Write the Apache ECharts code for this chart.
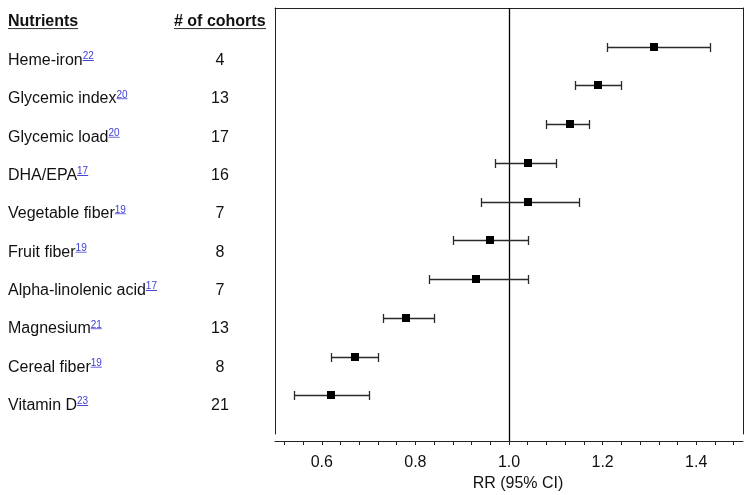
<!DOCTYPE html>
<html><head><meta charset="utf-8">
<script src="https://cdn.jsdelivr.net/npm/echarts@6/dist/echarts.min.js"></script>
<style>html,body{margin:0;padding:0;background:#fff}#c{width:751px;height:495px}</style>
</head><body><div id="c"></div>
<script>
const nutrients = ['Heme-iron','Glycemic index','Glycemic load','DHA/EPA','Vegetable fiber','Fruit fiber','Alpha-linolenic acid','Magnesium','Cereal fiber','Vitamin D'];
const refs = ['22','20','20','17','19','19','17','21','19','23'];
const cohorts = [4,13,17,16,7,8,7,13,8,21];
const rr = [1.31,1.19,1.13,1.04,1.04,0.96,0.93,0.78,0.67,0.62];
const ciLow = [1.21,1.14,1.08,0.97,0.94,0.88,0.83,0.73,0.62,0.54];
const ciHigh = [1.43,1.24,1.17,1.10,1.15,1.04,1.04,0.84,0.72,0.70];
const xTickValues = [0.52,0.56,0.60,0.64,0.68,0.72,0.76,0.80,0.84,0.88,0.92,0.96,1.00,1.04,1.08,1.12,1.16,1.20,1.24,1.28,1.32,1.36,1.40,1.44,1.48];
const xLabelValues = [0.6,0.8,1.0,1.2,1.4];
const nullValue = 1.0;

const n = nutrients.length;
const rowValues = nutrients.map((_, i) => n - i);
const FONT = '"Liberation Sans", Arial, sans-serif';
const TXT = '#111';
const BLUE = '#4040d4';

function lineImg(h, row, color) {
  const c = document.createElement('canvas');
  c.width = 4; c.height = h;
  const ctx = c.getContext('2d');
  ctx.fillStyle = color;
  ctx.fillRect(0, row, 4, 1);
  return c;
}
const headLine = lineImg(18, 16, TXT);
const supLine = lineImg(12, 10, BLUE);

const chart = echarts.init(document.getElementById('c'), null, {renderer: 'canvas'});
const AXIS_OFFSET = 7;
const headRich = {u: {fontFamily: FONT, fontSize: 16, fontWeight: 'bold', color: TXT, lineHeight: 18, backgroundColor: {image: headLine}}};

chart.setOption({
  animation: false,
  backgroundColor: '#fff',
  title: [
    {text: '{u|Nutrients}', left: 8, top: 13, padding: 0, textStyle: {rich: headRich}},
    {text: '{u|# of cohorts}', left: 174, top: 13, padding: 0, textStyle: {rich: headRich}}
  ],
  grid: {left: 275, right: 8, top: 8, bottom: 61, containLabel: false, outerBoundsMode: 'none'},
  xAxis: [
    {
      type: 'value', position: 'bottom', min: 0.5, max: 1.5, offset: AXIS_OFFSET,
      axisLine: {show: true, onZero: false, lineStyle: {color: '#222', width: 1}},
      axisTick: {show: true, length: 4, customValues: xTickValues, lineStyle: {color: '#222'}},
      axisLabel: {show: true, customValues: xLabelValues, margin: 14, fontFamily: FONT, fontSize: 16, lineHeight: 16, color: TXT,
        formatter: v => v.toFixed(1)},
      splitLine: {show: false},
      name: 'RR (95% CI)', nameLocation: 'middle', nameGap: 32,
      nameTextStyle: {fontFamily: FONT, fontSize: 16, lineHeight: 16, color: TXT, padding: [0, 0, 0, 18]}
    },
    {
      type: 'value', position: 'top', min: 0.5, max: 1.5,
      axisLine: {show: true, onZero: false, lineStyle: {color: '#222', width: 1}},
      axisTick: {show: false}, axisLabel: {show: false}, splitLine: {show: false}
    }
  ],
  yAxis: [
    {
      type: 'value', position: 'left', min: 0, max: n + 1,
      axisLine: {show: true, onZero: false, lineStyle: {color: '#222', width: 1}},
      axisTick: {show: false}, axisLabel: {show: false}, splitLine: {show: false}
    },
    {
      type: 'value', position: 'right', min: 0, max: n + 1,
      axisLine: {show: true, onZero: false, lineStyle: {color: '#222', width: 1}},
      axisTick: {show: false}, axisLabel: {show: false}, splitLine: {show: false}
    },
    {
      type: 'value', position: 'left', min: 0.262, max: 11.376,
      axisLine: {show: false}, axisTick: {show: false}, splitLine: {show: false},
      axisLabel: {
        show: true, customValues: rowValues, align: 'left', margin: 267,
        formatter: v => { const i = n - Math.round(v); return '{n|' + nutrients[i] + '}{s|' + refs[i] + '}'; },
        rich: {
          n: {fontFamily: FONT, fontSize: 16, lineHeight: 18, color: TXT},
          s: {fontFamily: FONT, fontSize: 10, lineHeight: 12, verticalAlign: 'top', color: BLUE, backgroundColor: {image: supLine}}
        }
      }
    },
    {
      type: 'value', position: 'left', min: 0.262, max: 11.376,
      axisLine: {show: false}, axisTick: {show: false}, splitLine: {show: false},
      axisLabel: {
        show: true, customValues: rowValues, align: 'center', margin: 55,
        fontFamily: FONT, fontSize: 16, lineHeight: 18, color: TXT,
        formatter: v => String(cohorts[n - Math.round(v)])
      }
    }
  ],
  series: [
    {
      type: 'custom', xAxisIndex: 0, yAxisIndex: 0, clip: false,
      data: [[nullValue, 0]],
      encode: {x: 0, y: 1},
      renderItem: (params, api) => {
        const cs = params.coordSys;
        const x = Math.round(api.coord([api.value(0), 0])[0]) + 0.5;
        return {type: 'line', shape: {x1: x, y1: cs.y, x2: x, y2: cs.y + cs.height + AXIS_OFFSET},
          style: {stroke: '#000', lineWidth: 1.3}};
      }
    },
    {
      type: 'custom', xAxisIndex: 0, yAxisIndex: 0, clip: false,
      data: rowValues.map((y, i) => [y, ciLow[i], rr[i], ciHigh[i]]),
      encode: {x: [1, 2, 3], y: 0},
      renderItem: (params, api) => {
        const y = api.value(0);
        const lo = api.coord([api.value(1), y]);
        const mid = api.coord([api.value(2), y]);
        const hi = api.coord([api.value(3), y]);
        const yy = Math.round(lo[1]) + 0.5;
        const xl = Math.round(lo[0]) + 0.5, xh = Math.round(hi[0]) + 0.5;
        const cap = 4.5;
        const st = {stroke: '#2a2a2a', lineWidth: 1.3};
        return {type: 'group', children: [
          {type: 'line', shape: {x1: xl, y1: yy, x2: xh, y2: yy}, style: st},
          {type: 'line', shape: {x1: xl, y1: yy - cap, x2: xl, y2: yy + cap}, style: st},
          {type: 'line', shape: {x1: xh, y1: yy - cap, x2: xh, y2: yy + cap}, style: st},
          {type: 'rect', shape: {x: Math.round(mid[0]) - 4, y: Math.round(mid[1]) - 4, width: 8, height: 8}, style: {fill: '#000'}}
        ]};
      }
    }
  ]
});
</script>
</body></html>
